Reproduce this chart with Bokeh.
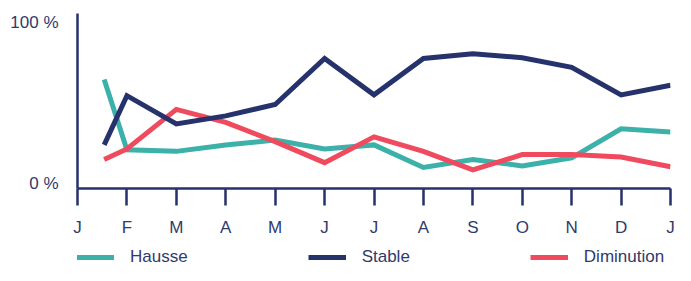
from bokeh.plotting import figure
from bokeh.layouts import column
from bokeh.models import Legend, LegendItem, FixedTicker, Range1d
from bokeh.embed import file_html
from bokeh.resources import INLINE

# ---- data ----
months = ["J", "F", "M", "A", "M", "J", "J", "A", "S", "O", "N", "D", "J"]
x_pos = [0.54, 1, 2, 3, 4, 5, 6, 7, 8, 9, 10, 11, 12]
hausse = [64.5, 21, 20, 24, 27, 21.5, 24, 10, 15, 11, 16, 34, 32]
stable = [24, 54.5, 37, 42, 49, 77.5, 55, 77.5, 80.5, 78, 72, 55, 61]
diminution = [15, 21.5, 46, 38, 26, 13, 29, 20, 8.5, 18, 18, 16.5, 10.5]
series_names = ["Hausse", "Stable", "Diminution"]
y_ticks = [0, 100]
y_tick_labels = ["0 %", "100 %"]

TEAL = "#3cb1a9"
NAVY = "#25326b"
RED = "#ef4a5e"
TEXT = "#2f3a6d"
FONT = "Liberation Sans"

x_range = Range1d(0, 12)
y_range = Range1d(-3, 105.4)

p = figure(width=675, height=240, output_backend="svg", toolbar_location=None,
           x_range=x_range, y_range=y_range,
           min_border_left=77, min_border_right=5, min_border_top=13,
           min_border_bottom=52)
p.outline_line_color = None
p.xgrid.visible = False
p.ygrid.visible = False

p.line(x_pos, hausse, line_color=TEAL, line_width=5, line_join="miter")
p.line(x_pos, diminution, line_color=RED, line_width=5, line_join="miter")
p.line(x_pos, stable, line_color=NAVY, line_width=5, line_join="miter")

# x axis
xa = p.xaxis[0]
xa.ticker = FixedTicker(ticks=list(range(len(months))))
xa.major_label_overrides = {i: m for i, m in enumerate(months)}
xa.axis_line_color = NAVY
xa.axis_line_width = 2.5
xa.major_tick_line_color = NAVY
xa.major_tick_line_width = 2.5
xa.major_tick_out = 17
xa.major_tick_in = 0
xa.minor_tick_line_color = None
xa.major_label_standoff = 12
xa.major_label_text_font = FONT
xa.major_label_text_font_size = "17px"
xa.major_label_text_color = TEXT

# y axis
ya = p.yaxis[0]
ya.ticker = FixedTicker(ticks=y_ticks)
ya.major_label_overrides = dict(zip(y_ticks, y_tick_labels))
ya.axis_line_color = NAVY
ya.axis_line_width = 2.5
ya.major_tick_line_color = None
ya.major_tick_out = 0
ya.major_tick_in = 0
ya.minor_tick_line_color = None
ya.major_label_standoff = 19
ya.major_label_text_font = FONT
ya.major_label_text_font_size = "17px"
ya.major_label_text_color = TEXT

# legend strip (separate small figure so the legend is not clipped)
pl = figure(width=675, height=25, output_backend="svg", toolbar_location=None,
            x_range=x_range, y_range=y_range, min_border=0)
pl.axis.visible = False
pl.xgrid.visible = False
pl.ygrid.visible = False
pl.outline_line_color = None
l1 = pl.line(x_pos, hausse, line_color=TEAL, line_width=5, visible=False)
l2 = pl.line(x_pos, stable, line_color=NAVY, line_width=5, visible=False)
l3 = pl.line(x_pos, diminution, line_color=RED, line_width=5, visible=False)

legend = Legend(items=[LegendItem(label=series_names[0], renderers=[l1]),
                       LegendItem(label=series_names[1], renderers=[l2]),
                       LegendItem(label=series_names[2], renderers=[l3])],
                orientation="horizontal", location=(-1, -2), margin=0, padding=0,
                spacing=120, glyph_width=38, glyph_height=16, label_standoff=16,
                label_height=16,
                label_text_font=FONT, label_text_font_size="17px",
                label_text_color=TEXT, border_line_color=None,
                background_fill_alpha=0)
pl.add_layout(legend, "center")

layout = column(p, pl, spacing=0)
open("out.html", "w").write(file_html(layout, INLINE))
